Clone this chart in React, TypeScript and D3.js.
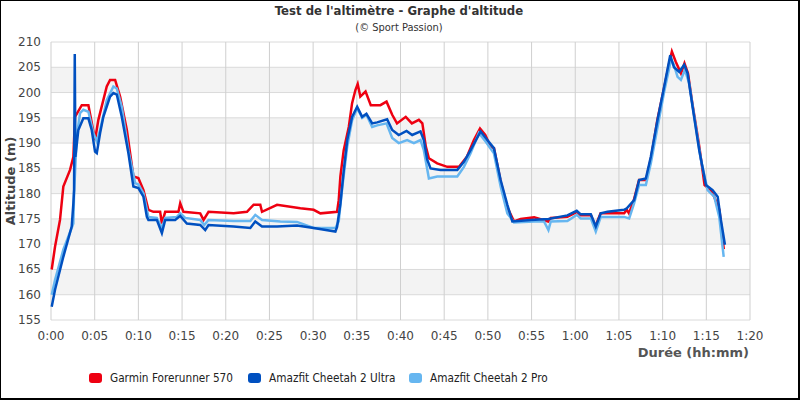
import * as d3 from "d3";

// time in minutes, altitude in m
const garminT = [0.08, 0.46, 1.03, 1.41, 2.18, 2.56, 2.75, 3.52, 4.28, 5.04, 5.42, 6.38, 6.76, 7.34, 7.91, 8.68, 9.43, 10.0, 10.58, 11.15, 11.72, 12.49, 12.69, 13.07, 14.59, 14.79, 15.16, 17.08, 17.46, 18.03, 20.9, 22.43, 23.19, 23.95, 24.15, 25.87, 28.54, 30.06, 30.83, 32.74, 32.93, 33.12, 33.5, 34.08, 34.46, 34.84, 35.1, 35.4, 36.0, 36.6, 37.7, 38.4, 39.05, 39.6, 40.6, 41.3, 42.1, 42.5, 42.9, 43.25, 44.2, 45.35, 46.7, 47.6, 48.4, 49.1, 49.7, 50.3, 50.7, 51.5, 52.2, 53.0, 53.75, 55.3, 56.9, 57.2, 59.1, 60.2, 60.6, 61.8, 62.3, 62.9, 65.6, 65.9, 66.15, 66.7, 67.3, 68.1, 68.7, 69.4, 70.2, 70.75, 71.06, 71.5, 72.1, 72.5, 72.9, 73.4, 74.2, 74.8, 75.5, 75.9, 76.5, 77.0];
const garminAlt = [165, 169.5, 174.8, 181.4, 184.7, 187.3, 195.2, 197.5, 197.5, 190.6, 194.6, 201.2, 202.5, 202.5, 199.2, 192.6, 183.4, 183.1, 180.7, 176.8, 176.4, 176.4, 174.1, 176.4, 176.4, 178.1, 176.4, 176.1, 174.8, 176.4, 176.1, 176.4, 177.8, 177.8, 176.4, 177.8, 177.1, 176.8, 176.1, 176.4, 178.7, 183.4, 188.6, 193.2, 197.9, 200.5, 201.7, 199.2, 200.2, 197.5, 197.5, 198.2, 195.6, 193.9, 195.2, 193.9, 194.6, 193.9, 189.3, 187, 186, 185.3, 185.3, 187.3, 190.6, 192.9, 191.6, 189.3, 189, 182.1, 177.4, 174.5, 175, 175.3, 174.5, 175.2, 175.4, 176.4, 175.7, 175.7, 173.5, 176.1, 176.1, 176.8, 176.1, 178.7, 182.7, 182.7, 187.3, 194.6, 201.2, 205.8, 208.1, 206.1, 203.8, 205.8, 203.8, 197.9, 189.3, 181.7, 180.7, 179.4, 176.8, 169];

const ultraT = [0.08, 0.46, 1.41, 2.37, 2.56, 2.64, 2.72, 2.79, 3.13, 3.7, 4.28, 4.66, 5.04, 5.24, 5.62, 5.99, 6.76, 7.14, 7.53, 8.1, 8.86, 9.43, 10.0, 10.58, 10.97, 11.15, 12.11, 12.69, 13.07, 14.21, 14.79, 15.55, 17.08, 17.65, 18.03, 20.9, 22.81, 23.38, 24.15, 25.87, 28.16, 30.06, 32.55, 32.74, 33.12, 33.5, 33.9, 34.46, 35.04, 35.61, 36.1, 36.76, 37.33, 38.47, 39.05, 39.8, 40.69, 41.34, 42.29, 42.67, 43.06, 43.44, 44.59, 46.5, 47.26, 48.02, 49.17, 49.94, 50.69, 51.46, 52.23, 52.8, 54.9, 56.93, 59.1, 60.17, 60.63, 61.78, 62.35, 62.92, 63.69, 65.59, 65.9, 66.74, 67.31, 68.08, 68.65, 69.42, 70.18, 70.87, 71.3, 71.9, 72.47, 72.86, 73.43, 74.19, 74.96, 75.72, 76.3, 76.67, 77.13];
const ultraAlt = [157.6, 161, 167.5, 173.5, 178.1, 180.7, 207.6, 187.3, 192.6, 194.9, 194.9, 192.6, 188.3, 188, 192, 195.2, 199.2, 199.9, 199.6, 195.2, 188, 181.4, 181.1, 179.4, 175.4, 174.8, 174.8, 172.2, 174.8, 174.8, 175.6, 174.1, 173.8, 172.8, 173.8, 173.5, 173.2, 174.5, 173.5, 173.5, 173.7, 173.2, 172.5, 173.4, 178, 184.5, 190.6, 195.2, 197.2, 195.2, 195.8, 193.9, 194.1, 194.7, 192.6, 191.6, 192.4, 191.6, 192.3, 190.6, 186.7, 185, 184.7, 184.7, 186.3, 188.6, 192.3, 190.6, 189, 182.7, 177.8, 174.5, 174.8, 175, 175.7, 176.6, 175.9, 175.9, 173.5, 176.1, 176.4, 176.8, 177.1, 178.7, 182.7, 183, 187.3, 194.6, 201.2, 207.4, 205, 204.1, 205.5, 203.8, 197.2, 188.6, 181.7, 180.7, 179.4, 174.8, 169.9];

const proT = [0.08, 0.46, 1.41, 2.56, 2.64, 2.95, 3.32, 3.7, 4.28, 4.85, 5.24, 5.62, 6.38, 7.14, 7.53, 8.1, 8.86, 9.63, 10.0, 10.58, 11.15, 12.11, 12.69, 13.07, 14.41, 14.79, 15.36, 17.08, 17.54, 18.03, 20.9, 22.81, 23.38, 24.15, 26.25, 28.16, 30.06, 32.55, 32.93, 33.32, 33.9, 34.46, 35.04, 35.61, 36.1, 36.76, 37.33, 38.4, 39.05, 39.8, 40.76, 41.53, 42.29, 42.67, 43.25, 44.2, 46.5, 47.26, 48.02, 48.97, 49.74, 50.69, 51.46, 52.23, 52.99, 55.28, 56.43, 56.93, 57.2, 59.1, 60.17, 60.63, 61.78, 62.35, 62.92, 65.59, 66.17, 66.74, 67.31, 68.08, 68.65, 69.42, 70.18, 70.95, 71.25, 71.71, 72.09, 72.55, 73.04, 73.62, 74.38, 75.15, 75.91, 76.48, 76.99];
const proAlt = [160, 162.9, 168.9, 174.1, 180.1, 191.3, 195.9, 196.6, 196.2, 192, 190.3, 192.6, 198.5, 201.2, 200.8, 197.2, 188.6, 182.1, 181.8, 180.1, 175.4, 175.2, 173.2, 175.2, 175.4, 176.1, 175.2, 174.8, 173.8, 174.8, 174.6, 174.6, 175.8, 174.8, 174.5, 174.4, 173.2, 173.2, 174.5, 181, 189.3, 194.5, 196.9, 195, 195.6, 193.2, 193.5, 193.9, 191, 190, 190.6, 190, 190.6, 188.6, 183, 183.4, 183.4, 185.3, 188, 192, 190.3, 188, 181.4, 176.1, 174.3, 174.5, 174.5, 172.8, 174.5, 174.6, 175.8, 175.1, 175.1, 172.5, 175.4, 175.4, 175.1, 178.1, 181.7, 181.7, 186, 193.2, 200.2, 206.4, 205.7, 203.1, 202.5, 204.5, 201.8, 195.2, 186.7, 180.7, 179.4, 175.4, 167.5];

const seriesNames = ["Garmin Forerunner 570", "Amazfit Cheetah 2 Ultra", "Amazfit Cheetah 2 Pro"];
const seriesColors = ["#ee0011", "#0050c0", "#66b6f0"];
const yTicks = [155, 160, 165, 170, 175, 180, 185, 190, 195, 200, 205, 210];
const xTicks = [0, 5, 10, 15, 20, 25, 30, 35, 40, 45, 50, 55, 60, 65, 70, 75, 80];

export default function App() {
  const x = d3.scaleLinear().domain([0, 80]).range([51, 750]);
  const y = d3.scaleLinear().domain([155, 210]).range([320, 42]);

  const series = [
    { t: garminT, v: garminAlt },
    { t: ultraT, v: ultraAlt },
    { t: proT, v: proAlt },
  ];
  const line = d3
    .line<[number, number]>()
    .x((d) => x(d[0]))
    .y((d) => y(d[1]));

  const fmt = (m: number) => `${Math.floor(m / 60)}:${String(m % 60).padStart(2, "0")}`;
  const drawOrder = [0, 2, 1];
  const legendX = [89, 248, 409];

  return (
    <div style={{ position: "absolute", left: 0, top: 0 }}>
      <svg width={800} height={400} style={{ display: "block", fontFamily: "DejaVu Sans" }}>
        <rect x={0} y={0} width={800} height={400} fill="#fff" />
        {/* bands */}
        {yTicks.slice(0, -1).map((v) =>
          (v / 5) % 2 === 0 ? (
            <rect key={"b" + v} x={x(0)} y={y(v + 5)} width={x(80) - x(0)} height={y(v) - y(v + 5)} fill="#f3f3f3" />
          ) : null
        )}
        {yTicks.map((v) => (
          <line key={"h" + v} x1={x(0)} x2={x(80)} y1={y(v)} y2={y(v)} stroke="#dadada" />
        ))}
        {xTicks.map((m) => (
          <line key={"v" + m} x1={x(m)} x2={x(m)} y1={y(210)} y2={y(155)} stroke="#cfcfcf" />
        ))}
        {drawOrder.map((i) => (
          <path
            key={"s" + i}
            d={line(series[i].t.map((t, j) => [t, series[i].v[j]] as [number, number])) || ""}
            fill="none"
            stroke={seriesColors[i]}
            strokeWidth={2.5}
          />
        ))}
        {yTicks.map((v) => (
          <text key={"yl" + v} x={41} y={y(v) + 4} textAnchor="end" fontSize={12} fill="#444">
            {v}
          </text>
        ))}
        {xTicks.map((m) => (
          <text key={"xl" + m} x={x(m)} y={340} textAnchor="middle" fontSize={12} fill="#444">
            {fmt(m)}
          </text>
        ))}
        <text x={399} y={15} textAnchor="middle" fontSize={13} fontWeight="bold" fill="#333" fontFamily="DejaVu Sans Condensed">
          Test de l'altimètre - Graphe d'altitude
        </text>
        <text x={399} y={31} textAnchor="middle" fontSize={11} fill="#333" fontFamily="DejaVu Sans Condensed">
          (© Sport Passion)
        </text>
        <text transform={`translate(15,${(y(155) + y(210)) / 2}) rotate(-90)`} textAnchor="middle" fontSize={13} fontWeight="bold" fill="#444">
          Altitude (m)
        </text>
        <text x={749} y={357} textAnchor="end" fontSize={13} fontWeight="bold" fill="#555">
          Durée (hh:mm)
        </text>
        {seriesNames.map((n, i) => (
          <g key={"lg" + i}>
            <rect x={legendX[i]} y={373} width={13} height={10} rx={3} fill={seriesColors[i]} />
            <text x={legendX[i] + 21} y={382} fontSize={11.7} fill="#222" fontFamily="DejaVu Sans Condensed">
              {n}
            </text>
          </g>
        ))}
        <rect x={0} y={0} width={799} height={399} fill="none" stroke="#000" strokeWidth={2} />
      </svg>
    </div>
  );
}
